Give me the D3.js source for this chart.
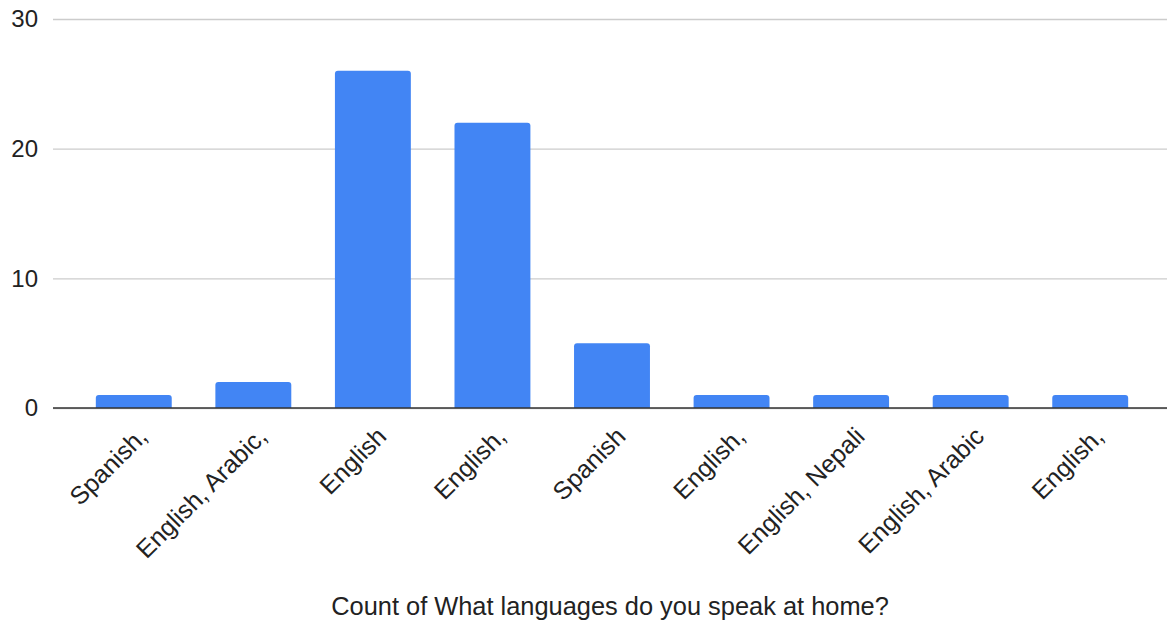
<!DOCTYPE html>
<html>
<head>
<meta charset="utf-8">
<script src="https://cdn.jsdelivr.net/npm/d3@7"></script>
<style>
  html, body { margin: 0; padding: 0; background: #fff; }
  svg { display: block; font-family: Arial, "Liberation Sans", sans-serif; }
</style>
</head>
<body>
<svg id="chart" width="1167" height="626"></svg>
<script>
// Answers to "What languages do you speak at home?" and how often each appears
const categories = ["Spanish,", "English, Arabic,", "English", "English,", "Spanish", "English,", "English, Nepali", "English, Arabic", "English,"];
const counts = [1, 2, 26, 22, 5, 1, 1, 1, 1];
const yTicks = [0, 10, 20, 30];
const axisTitle = "Count of What languages do you speak at home?";

const svg = d3.select("#chart");
const gridLeft = 53, gridRight = 1167;
const plotTop = 19, plotBottom = 408;

// Each category gets its own band; keys are indices since some labels repeat
const x = d3.scaleBand()
  .domain(d3.range(categories.length))
  .range([74, 1150])
  .paddingInner(0.365)
  .paddingOuter(0.1825);

const y = d3.scaleLinear().domain([0, 30]).range([plotBottom, plotTop]);

// Horizontal gridlines with value labels on the left
const yAxis = d3.axisLeft(y)
  .tickValues(yTicks)
  .tickSize(-(gridRight - gridLeft))
  .tickPadding(15)
  .tickFormat(d3.format("d"));

const gy = svg.append("g")
  .attr("transform", `translate(${gridLeft},0)`)
  .call(yAxis);
gy.select(".domain").remove();
gy.selectAll(".tick line").attr("stroke", "#cccccc").attr("stroke-width", 1.3);
gy.selectAll(".tick text")
  .attr("fill", "#222")
  .attr("font-size", 24)
  .attr("font-family", "Arial, 'Liberation Sans', sans-serif");

// Bars with softly rounded tops
const r = 3;
svg.append("g").selectAll("path")
  .data(counts)
  .join("path")
  .attr("fill", "#4285f4")
  .attr("d", (d, i) => {
    const x0 = x(i), w = x.bandwidth();
    const yt = y(d), yb = y(0);
    return `M${x0},${yb}V${yt + r}Q${x0},${yt} ${x0 + r},${yt}H${x0 + w - r}Q${x0 + w},${yt} ${x0 + w},${yt + r}V${yb}Z`;
  });

// Baseline
svg.append("line")
  .attr("x1", gridLeft).attr("x2", gridRight)
  .attr("y1", y(0)).attr("y2", y(0))
  .attr("stroke", "#333").attr("stroke-width", 1.5);

// Category labels, slanted at 45 degrees
svg.append("g").selectAll("text")
  .data(categories)
  .join("text")
  .attr("transform", (d, i) => `translate(${x(i) + x.bandwidth() / 2 + 15},${y(0) + 30}) rotate(-45)`)
  .attr("text-anchor", "end")
  .attr("fill", "#222")
  .attr("font-size", 25)
  .text(d => d);

// Axis title
svg.append("text")
  .attr("x", 610)
  .attr("y", 615)
  .attr("text-anchor", "middle")
  .attr("fill", "#222")
  .attr("font-size", 25.4)
  .text(axisTitle);
</script>
</body>
</html>
